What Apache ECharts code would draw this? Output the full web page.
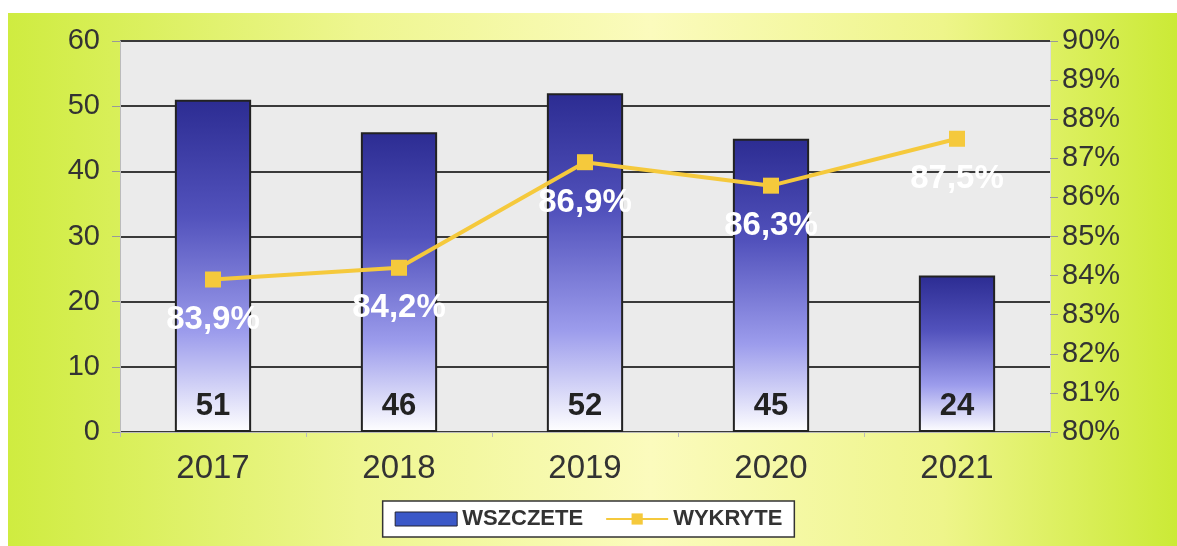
<!DOCTYPE html>
<html><head><meta charset="utf-8">
<script src="https://cdn.jsdelivr.net/npm/echarts@6/dist/echarts.min.js"></script>
<style>html,body{margin:0;padding:0;background:#fff}#c{width:1177px;height:546px}</style>
</head><body><div id="c"></div>
<script>
const categories = ['2017','2018','2019','2020','2021'];
const wszczete = [51, 46, 52, 45, 24];
const wykryte = [83.9, 84.2, 86.9, 86.3, 87.5];
const leftTicks = {min:0, max:60, interval:10};
const rightTicks = {min:80, max:90, interval:1};

const chart = echarts.init(document.getElementById('c'));
const font = 'Liberation Sans, Arial, sans-serif';
chart.setOption({
  backgroundColor: '#ffffff',
  animation: false,
  graphic: [{
    type: 'rect', z: -10, silent: true,
    shape: {x: 8, y: 13, width: 1169, height: 533},
    style: {fill: new echarts.graphic.LinearGradient(0,0,1,0,[
      {offset:0, color:'#cfec40'},{offset:0.3, color:'#eef690'},
      {offset:0.55, color:'#fbfbbd'},{offset:0.8, color:'#eef58a'},{offset:1, color:'#cbea36'}])}
  }],
  grid: {left: 120, right: 127, top: 41, bottom: 114, show: true, backgroundColor: '#ebebeb', borderWidth: 0},
  legend: {
    bottom: 9, left: 'center', itemGap: 22,
    backgroundColor: '#ffffff', borderColor: '#333', borderWidth: 1.5,
    padding: [7, 12, 7, 12], itemWidth: 62, itemHeight: 14,
    textStyle: {fontFamily: font, fontSize: 22, fontWeight: 'bold', color: '#333'},
    data: [
      {name: 'WSZCZETE', icon: 'rect', itemStyle: {color: '#3b58c8', borderColor:'#223', borderWidth:1}},
      {name: 'WYKRYTE'}
    ]
  },
  xAxis: {
    type: 'category', data: categories,
    axisLine: {lineStyle: {color: '#bbb'}},
    axisTick: {show: true, lineStyle: {color: '#bbb'}},
    axisLabel: {fontFamily: font, fontSize: 33, color: '#333', margin: 20}
  },
  yAxis: [{
    type: 'value', min: leftTicks.min, max: leftTicks.max, interval: leftTicks.interval,
    axisLine: {show: true, lineStyle: {color: '#bbb'}},
    axisTick: {show: true, length: 8, lineStyle: {color: '#999'}},
    splitLine: {lineStyle: {color: '#3a3a3a', width: 2}},
    axisLabel: {fontFamily: font, fontSize: 29, color: '#333', margin: 20}
  },{
    type: 'value', min: rightTicks.min, max: rightTicks.max, interval: rightTicks.interval,
    axisLine: {show: true, lineStyle: {color: '#ddd'}},
    axisTick: {show: true, length: 8, lineStyle: {color: '#999'}},
    splitLine: {show: false},
    axisLabel: {fontFamily: font, fontSize: 29, color: '#333', margin: 12, formatter: '{value}%'}
  }],
  series: [{
    name: 'WSZCZETE', type: 'bar', data: wszczete, barWidth: '41%', z: 2,
    itemStyle: {
      borderColor: '#222', borderWidth: 2,
      color: new echarts.graphic.LinearGradient(0,0,0,1,[
        {offset:0, color:'#2c2c92'},{offset:0.35, color:'#5252bc'},
        {offset:0.7, color:'#9c9cec'},{offset:1, color:'#ffffff'}])
    },
    label: {show: true, position: 'insideBottom', distance: 10, fontFamily: font, fontSize: 31, fontWeight: 'bold', color: '#222'}
  },{
    name: 'WYKRYTE', type: 'line', yAxisIndex: 1, data: wykryte, z: 5,
    symbol: 'rect', symbolSize: 16,
    lineStyle: {color: '#f5c93c', width: 4},
    itemStyle: {color: '#f5c93c'},
    label: {show: true, position: 'bottom', distance: 16, fontFamily: font, fontSize: 33, fontWeight: 'bold', color: '#ffffff',
      formatter: p => p.value.toFixed(1).replace('.', ',') + '%'}
  }]
});
</script></body></html>
